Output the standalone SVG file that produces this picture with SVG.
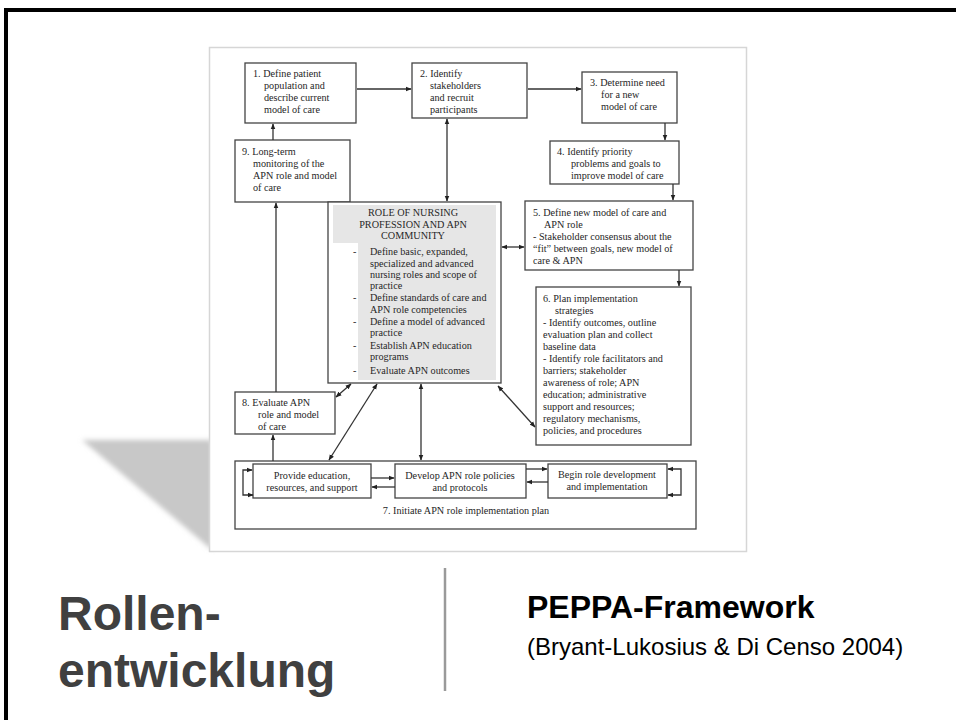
<svg xmlns="http://www.w3.org/2000/svg" width="956" height="720" viewBox="0 0 956 720">
<style>
.box{fill:#fff;stroke:#444;stroke-width:1.3}
.t{font-family:"Liberation Serif","Times New Roman",serif;font-size:10.2px;fill:#262626}
.c{text-anchor:middle}
.ln{stroke:#333;stroke-width:1.3;fill:none}
.e{marker-end:url(#ah)}
.b{marker-end:url(#ah);marker-start:url(#ahs)}
.big{font-family:"Liberation Sans",Arial,sans-serif;font-weight:bold;font-size:48px;fill:#404040}
</style>
<defs>
<marker id="ah" viewBox="0 0 10 10" refX="9" refY="5" markerWidth="6" markerHeight="6" markerUnits="userSpaceOnUse" orient="auto"><path d="M0,1 L10,5 L0,9 z" fill="#222"/></marker>
<marker id="ahs" viewBox="0 0 10 10" refX="9" refY="5" markerWidth="6" markerHeight="6" markerUnits="userSpaceOnUse" orient="auto-start-reverse"><path d="M0,1 L10,5 L0,9 z" fill="#222"/></marker>
<filter id="blur" x="-20%" y="-20%" width="140%" height="140%"><feGaussianBlur stdDeviation="2.5"/></filter>
</defs>
<rect x="6" y="10" width="980" height="730" fill="#fff" stroke="#000" stroke-width="4"/>
<polygon points="82,440 212,440 212,550" fill="#c8c8c8" filter="url(#blur)"/>
<rect x="209.5" y="47.5" width="537" height="504" fill="#fff" stroke="#d6d6d6" stroke-width="1.5"/>

<g id="node1"><rect class="box" x="245" y="63" width="111" height="60"/>
<text class="t" x="253" y="77">1. Define patient</text>
<text class="t" x="264" y="89">population and</text>
<text class="t" x="264" y="101">describe current</text>
<text class="t" x="264" y="113">model of care</text></g>

<g id="node2"><rect class="box" x="412" y="63" width="115" height="55"/>
<text class="t" x="420" y="77">2. Identify</text>
<text class="t" x="430" y="89">stakeholders</text>
<text class="t" x="430" y="101">and recruit</text>
<text class="t" x="430" y="113">participants</text></g>

<g id="node3"><rect class="box" x="582" y="72" width="95" height="51"/>
<text class="t" x="590" y="86">3. Determine need</text>
<text class="t" x="601" y="98">for a new</text>
<text class="t" x="601" y="110">model of care</text></g>

<g id="node4"><rect class="box" x="550" y="141" width="129" height="43"/>
<text class="t" x="557" y="155">4. Identify priority</text>
<text class="t" x="571" y="167">problems and goals to</text>
<text class="t" x="571" y="179">improve model of care</text></g>

<g id="node5"><rect class="box" x="525" y="201" width="168" height="69"/>
<text class="t" x="533" y="216">5. Define new model of care and</text>
<text class="t" x="544" y="228">APN role</text>
<text class="t" x="533" y="240">- Stakeholder consensus about the</text>
<text class="t" x="533" y="252">“fit” between goals, new model of</text>
<text class="t" x="533" y="264">care &amp; APN</text></g>

<g id="node6"><rect class="box" x="536" y="287" width="155" height="158"/>
<text class="t" x="543" y="302">6. Plan implementation</text>
<text class="t" x="555" y="314">strategies</text>
<text class="t" x="543" y="326">- Identify outcomes, outline</text>
<text class="t" x="543" y="338">evaluation plan and collect</text>
<text class="t" x="543" y="350">baseline data</text>
<text class="t" x="543" y="362">- Identify role facilitators and</text>
<text class="t" x="543" y="374">barriers; stakeholder</text>
<text class="t" x="543" y="386">awareness of role; APN</text>
<text class="t" x="543" y="398">education; administrative</text>
<text class="t" x="543" y="410">support and resources;</text>
<text class="t" x="543" y="422">regulatory mechanisms,</text>
<text class="t" x="543" y="434">policies, and procedures</text></g>

<g id="node9"><rect class="box" x="235" y="140" width="115" height="62"/>
<text class="t" x="242" y="155">9. Long-term</text>
<text class="t" x="253" y="167">monitoring of the</text>
<text class="t" x="253" y="179">APN role and model</text>
<text class="t" x="253" y="191">of care</text></g>

<g id="center"><rect class="box" x="328" y="202" width="173" height="181"/>
<path d="M333,205 H496 V380 H358 V243 H333 Z" fill="#e6e6e6"/>
<text class="t c" x="413" y="216">ROLE OF NURSING</text>
<text class="t c" x="413" y="228">PROFESSION AND APN</text>
<text class="t c" x="413" y="239">COMMUNITY</text>
<text class="t" x="353" y="255">-</text>
<text class="t" x="370" y="255">Define basic, expanded,</text>
<text class="t" x="370" y="267">specialized and advanced</text>
<text class="t" x="370" y="278">nursing roles and scope of</text>
<text class="t" x="370" y="289">practice</text>
<text class="t" x="353" y="301">-</text>
<text class="t" x="370" y="301">Define standards of care and</text>
<text class="t" x="370" y="313">APN role competencies</text>
<text class="t" x="353" y="325">-</text>
<text class="t" x="370" y="325">Define a model of advanced</text>
<text class="t" x="370" y="336">practice</text>
<text class="t" x="353" y="349">-</text>
<text class="t" x="370" y="349">Establish APN education</text>
<text class="t" x="370" y="360">programs</text>
<text class="t" x="353" y="374">-</text>
<text class="t" x="370" y="374">Evaluate APN outcomes</text></g>

<g id="node8"><rect class="box" x="235" y="392" width="100" height="42"/>
<text class="t" x="242" y="406">8. Evaluate APN</text>
<text class="t" x="258" y="418">role and model</text>
<text class="t" x="258" y="430">of care</text></g>

<g id="node7"><rect class="box" x="235" y="461" width="461" height="68"/>
<text class="t c" x="466" y="514">7. Initiate APN role implementation plan</text></g>

<g id="provide"><rect class="box" x="253" y="464" width="118" height="34"/>
<text class="t c" x="312" y="479">Provide education,</text>
<text class="t c" x="312" y="491">resources, and support</text></g>

<g id="develop"><rect class="box" x="395" y="464" width="131" height="34"/>
<text class="t c" x="460" y="479">Develop APN role policies</text>
<text class="t c" x="460" y="491">and protocols</text></g>

<g id="begin"><rect class="box" x="548" y="464" width="119" height="34"/>
<text class="t c" x="607" y="478">Begin role development</text>
<text class="t c" x="607" y="490">and implementation</text></g>

<g id="connectors">
<line class="ln e" x1="357" y1="89" x2="411" y2="89"/>
<line class="ln e" x1="528" y1="89" x2="581" y2="89"/>
<line class="ln e" x1="665" y1="123" x2="665" y2="140"/>
<line class="ln e" x1="673" y1="184" x2="673" y2="200"/>
<line class="ln e" x1="679" y1="270" x2="679" y2="286"/>
<line class="ln b" x1="447" y1="119" x2="447" y2="201"/>
<line class="ln b" x1="502" y1="247" x2="524" y2="247"/>
<line class="ln b" x1="498" y1="386" x2="535" y2="427"/>
<line class="ln e" x1="273" y1="140" x2="273" y2="124"/>
<line class="ln e" x1="276" y1="392" x2="276" y2="203"/>
<line class="ln e" x1="273" y1="461" x2="273" y2="435"/>
<line class="ln b" x1="336" y1="397" x2="351" y2="384"/>
<line class="ln b" x1="377" y1="384" x2="329" y2="460"/>
<line class="ln b" x1="421" y1="384" x2="421" y2="460"/>
<line class="ln e" x1="371" y1="478" x2="394" y2="478"/>
<line class="ln e" x1="395" y1="487" x2="372" y2="487"/>
<line class="ln e" x1="526" y1="469" x2="547" y2="469"/>
<line class="ln e" x1="548" y1="482" x2="527" y2="482"/>
<path class="ln b" d="M253,495 H243 V470 H252"/>
<path class="ln b" d="M668,469 H681 V495 H668"/>
</g>

<line x1="445" y1="568" x2="445" y2="691" stroke="#9a9a9a" stroke-width="2.5"/>
<text class="big" x="58" y="630">Rollen-</text>
<text class="big" x="58" y="687">entwicklung</text>
<text x="527" y="618" font-family="Liberation Sans,Arial,sans-serif" font-weight="bold" font-size="32" fill="#000">PEPPA-Framework</text>
<text x="527" y="655" font-family="Liberation Sans,Arial,sans-serif" font-size="24" fill="#000">(Bryant-Lukosius &amp; Di Censo 2004)</text>
</svg>
